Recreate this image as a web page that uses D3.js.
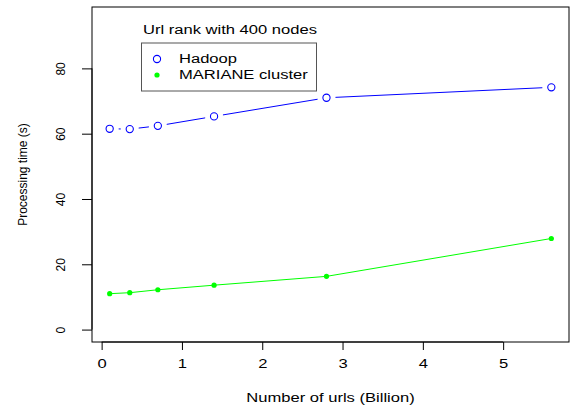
<!DOCTYPE html>
<html>
<head>
<meta charset="utf-8">
<script src="https://cdn.jsdelivr.net/npm/d3@7"></script>
<style>
  body { margin: 0; background: #fff; }
  svg { display: block; font-family: "Liberation Sans", Arial, sans-serif; }
</style>
</head>
<body>
<svg id="chart" width="573" height="409"></svg>
<script>
// --- Data ---
const urls = [0.1, 0.35, 0.7, 1.4, 2.8, 5.6];          // billions
const hadoop = [61.5, 61.4, 62.4, 65.3, 71.0, 74.2];
const mariane = [11.0, 11.3, 12.2, 13.6, 16.3, 27.9];
const xTicks = [0, 1, 2, 3, 4, 5];
const yTicks = [0, 20, 40, 60, 80];
const legendTitle = 'Url rank with 400 nodes';
const seriesNames = ['Hadoop', 'MARIANE cluster'];

const svg = d3.select('#chart');
const box = { left: 92, right: 569, top: 7, bottom: 342 };
const stretch = 1.38;   // horizontal text in the original is drawn wide

const x = d3.scaleLinear().domain([-0.12, 5.82]).range([box.left, box.right]);
const y = d3.scaleLinear().domain([-3.8, 98.8]).range([box.bottom, box.top]);

// Plot frame
svg.append('rect')
    .attr('x', box.left).attr('y', box.top)
    .attr('width', box.right - box.left).attr('height', box.bottom - box.top)
    .attr('fill', 'none').attr('stroke', '#000');

// X axis
const gx = svg.append('g')
    .attr('transform', `translate(0,${box.bottom})`)
    .call(d3.axisBottom(x).tickValues(xTicks).tickSize(8).tickPadding(9).tickFormat(d3.format('d')));
gx.select('.domain').remove();
gx.append('line').attr('x1', x(0)).attr('x2', x(5)).attr('stroke', '#000');
gx.selectAll('text')
    .attr('font-size', 12).attr('fill', '#000').attr('font-family', null)
    .attr('transform', `scale(${stretch},1)`);

// Y axis
const gy = svg.append('g')
    .attr('transform', `translate(${box.left},0)`)
    .call(d3.axisLeft(y).tickValues(yTicks).tickSize(10).tickFormat(d3.format('d')));
gy.select('.domain').remove();
gy.append('line').attr('y1', y(0)).attr('y2', y(80)).attr('stroke', '#000');
gy.selectAll('text')
    .attr('font-size', 12).attr('fill', '#000').attr('font-family', null)
    .attr('text-anchor', 'middle').attr('x', null).attr('dy', null)
    .attr('transform', 'translate(-27,0) rotate(-90)');

// Axis titles
svg.append('text')
    .attr('transform', `translate(${(box.left + box.right) / 2},402) scale(${stretch},1)`)
    .attr('text-anchor', 'middle').attr('font-size', 12)
    .text('Number of urls (Billion)');
svg.append('text')
    .attr('transform', `translate(27,${(box.top + box.bottom) / 2}) rotate(-90)`)
    .attr('text-anchor', 'middle').attr('font-size', 12)
    .text('Processing time (s)');

// Hadoop: type "b" style, segments with gaps around points
const gap = 9;
const hPts = urls.map((u, i) => [x(u), y(hadoop[i])]);
for (let i = 0; i < hPts.length - 1; i++) {
    const [x1, y1] = hPts[i], [x2, y2] = hPts[i + 1];
    const len = Math.hypot(x2 - x1, y2 - y1);
    if (len <= 2 * gap) continue;
    const ux = (x2 - x1) / len, uy = (y2 - y1) / len;
    svg.append('line')
        .attr('x1', x1 + ux * gap).attr('y1', y1 + uy * gap)
        .attr('x2', x2 - ux * gap).attr('y2', y2 - uy * gap)
        .attr('stroke', '#0000ff').attr('stroke-width', 1);
}
svg.selectAll('.hadoop-pt')
    .data(urls)
    .join('circle')
    .attr('class', 'hadoop-pt')
    .attr('cx', d => x(d))
    .attr('cy', (d, i) => y(hadoop[i]))
    .attr('r', 3.6)
    .attr('fill', 'none').attr('stroke', '#0000ff').attr('stroke-width', 1.1);

// MARIANE cluster
svg.append('path')
    .datum(urls)
    .attr('d', d3.line().x(d => x(d)).y((d, i) => y(mariane[i])))
    .attr('fill', 'none').attr('stroke', '#00ff00').attr('stroke-width', 1);
svg.selectAll('.mariane-pt')
    .data(urls)
    .join('circle')
    .attr('class', 'mariane-pt')
    .attr('cx', d => x(d))
    .attr('cy', (d, i) => y(mariane[i]))
    .attr('r', 2.6)
    .attr('fill', '#00ff00');

// Legend
svg.append('text')
    .attr('transform', `translate(230,33.5) scale(${stretch},1)`)
    .attr('text-anchor', 'middle').attr('font-size', 12)
    .text(legendTitle);
svg.append('rect')
    .attr('x', 141.5).attr('y', 43).attr('width', 175).attr('height', 48)
    .attr('fill', 'none').attr('stroke', '#555');
const leg = svg.append('g');
leg.append('circle').attr('cx', 157).attr('cy', 59).attr('r', 3.6)
    .attr('fill', 'none').attr('stroke', '#0000ff').attr('stroke-width', 1.1);
leg.append('circle').attr('cx', 157).attr('cy', 75).attr('r', 2.6).attr('fill', '#00ff00');
leg.selectAll('text')
    .data(seriesNames)
    .join('text')
    .attr('transform', (d, i) => `translate(179,${63 + i * 15.5}) scale(${stretch},1)`)
    .attr('font-size', 12)
    .text(d => d);
</script>
</body>
</html>
